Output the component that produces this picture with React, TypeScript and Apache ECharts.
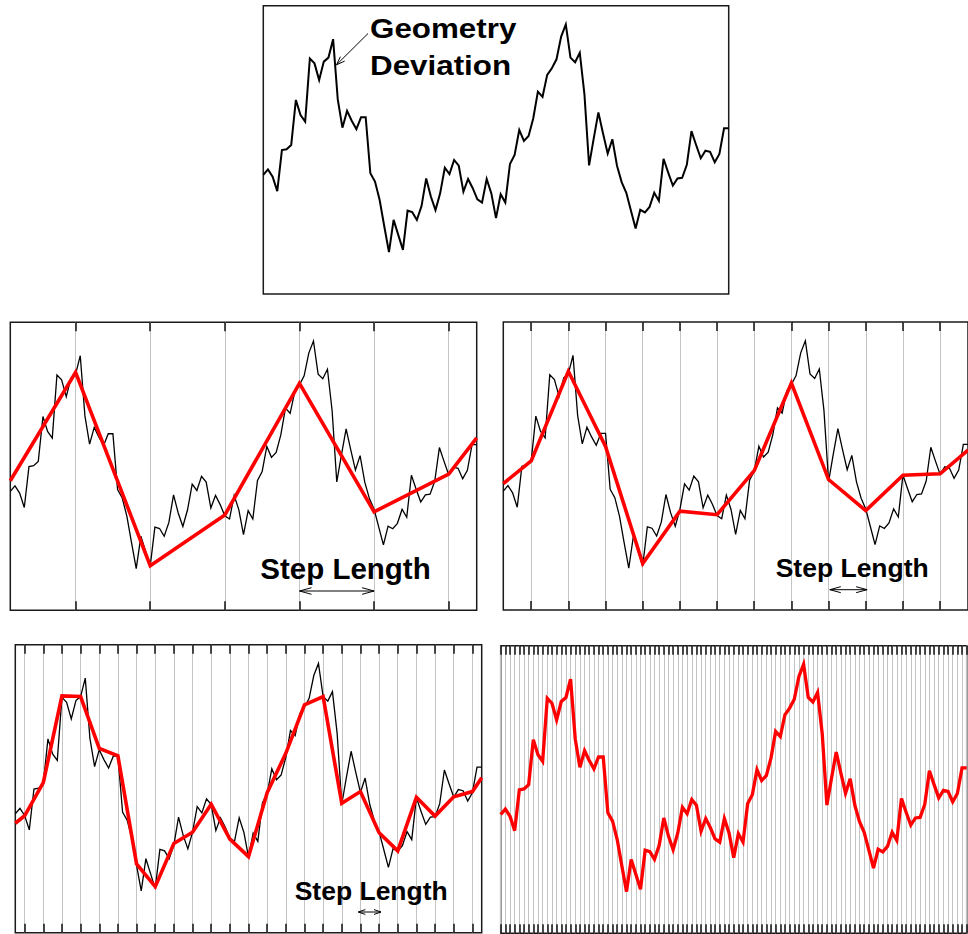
import React, { useEffect, useRef } from "react";
import * as echarts from "echarts";

// Geometry deviation signal (101 samples, position index 0..100), % of panel height
const signal = [
  41.3, 43.2, 40.7, 35.7, 49.9, 50.2, 51.7, 67.3, 62.1, 59.8,
  81.7, 80.0, 74.2, 80.6, 82.0, 88.4, 67.5, 57.7, 63.5, 60.1,
  57.2, 61.3, 61.3, 41.9, 39.0, 32.6, 23.4, 14.5, 25.7, 20.5,
  15.3, 28.9, 28.4, 25.7, 30.5, 40.1, 33.8, 29.1, 34.9, 43.8,
  41.6, 46.5, 44.5, 35.5, 39.9, 36.7, 32.8, 31.7, 39.9, 34.9,
  26.3, 34.6, 31.7, 45.1, 48.2, 56.9, 53.1, 54.8, 60.9, 70.2,
  68.4, 76.0, 78.3, 81.4, 89.3, 93.5, 82.0, 80.4, 83.7, 69.3,
  44.6, 54.0, 63.0, 55.7, 48.7, 53.7, 44.5, 38.8, 35.1, 28.9,
  22.7, 29.2, 28.3, 30.2, 35.1, 32.3, 46.9, 42.1, 37.6, 40.1,
  40.3, 44.8, 56.5, 51.7, 47.1, 49.7, 49.3, 45.7, 48.6, 57.5, 57.5,
];

const positions = signal.map((_, i) => String(i));

// Piecewise-linear approximations
const step16Idx = [0, 14, 30, 46, 62, 78, 94, 100];
const step16Val = [45.0, 82.6, 15.5, 33.1, 78.8, 34.2, 47.3, 59.9];

const step8Idx = [0, 6, 14, 22, 30, 38, 46, 54, 62, 70, 78, 86, 94, 100];
const step8Val = [43.9, 51.8, 82.9, 56.8, 16.1, 34.3, 33.1, 48.4, 78.8, 45.3, 34.5, 46.8, 47.3, 55.5];

const step4Idx = [0, 2, 6, 10, 14, 18, 22, 26, 30, 34, 38, 42, 46, 50, 54, 58, 62, 66, 70, 74, 78, 82, 86, 90, 94, 98, 100];
const step4Val = [38.0, 40.6, 52.1, 82.2, 82.0, 64.0, 61.4, 23.9, 16.0, 31.0, 34.9, 44.6, 32.5, 26.4, 48.6, 62.3, 79.1, 82.0, 44.9, 49.0, 34.7, 28.4, 47.0, 40.5, 47.2, 49.0, 53.8];

const gridPhase = 14;

const panels = [
  { left: 263.3, top: 5.7, width: 465.4, height: 288.3 },
  { left: 10.3, top: 322.3, width: 466.4, height: 288 },
  { left: 503.3, top: 322, width: 466.4, height: 288 },
  { left: 15.3, top: 644.7, width: 466.4, height: 288 },
  { left: 500.7, top: 645.7, width: 466, height: 287.6 },
];

const steps = [16, 8, 4, 1];

const FONT = "'Liberation Sans', Arial, Helvetica, sans-serif";

function pairs(idx: number[], val: number[]) {
  return idx.map((x, k) => [x, val[k]]);
}

function textEl(text: string, x: number, y: number, size: number, align: string, scaleX = 1) {
  return {
    type: "text",
    x,
    y,
    scaleX,
    silent: true,
    z: 100,
    style: {
      text,
      fontSize: size,
      fontWeight: "bold",
      fontFamily: FONT,
      fill: "#000",
      align,
      textAlign: align,
      verticalAlign: "middle",
      textVerticalAlign: "middle",
    },
  };
}

function dblArrow(x1: number, x2: number, y: number, len: number, half: number) {
  const st = { stroke: "#000", lineWidth: 1, fill: "none" };
  return [
    { type: "line", silent: true, z: 100, shape: { x1, y1: y, x2, y2: y }, style: st },
    { type: "polyline", silent: true, z: 100, shape: { points: [[x1 + len, y - half], [x1, y], [x1 + len, y + half]] }, style: st },
    { type: "polyline", silent: true, z: 100, shape: { points: [[x2 - len, y - half], [x2, y], [x2 - len, y + half]] }, style: st },
  ];
}

export default function App() {
  const ref = useRef<HTMLDivElement>(null);

  useEffect(() => {
    if (!ref.current) return;
    const chart = echarts.init(ref.current, null, { renderer: "svg" });

    const grid = panels.map((p) => ({
      left: p.left,
      top: p.top,
      width: p.width,
      height: p.height,
      show: true,
      borderColor: "#1a1a1a",
      borderWidth: 1.5,
      backgroundColor: "transparent",
      containLabel: false,
    }));

    const xAxis: any[] = [
      {
        type: "category",
        gridIndex: 0,
        data: positions,
        boundaryGap: false,
        show: false,
      },
    ];
    steps.forEach((step, k) => {
      const fn = (idx: number) => ((((idx - gridPhase) % step) + step) % step) === 0;
      xAxis.push({
        type: "category",
        gridIndex: k + 1,
        data: positions,
        boundaryGap: false,
        position: "bottom",
        axisLine: { show: false },
        axisLabel: { show: false },
        axisTick: { show: true, inside: true, length: 9, interval: fn, lineStyle: { color: "#111", width: 1.5 } },
        splitLine: { show: true, interval: fn, lineStyle: { color: "#c4c4c4", width: 1 } },
      });
      xAxis.push({
        type: "category",
        gridIndex: k + 1,
        data: positions,
        boundaryGap: false,
        position: "top",
        axisLine: { show: false },
        axisLabel: { show: false },
        axisTick: { show: true, inside: true, length: 9, interval: fn, lineStyle: { color: "#111", width: 1.5 } },
        splitLine: { show: false },
      });
    });

    const yAxis = panels.map((_, k) => ({
      type: "value",
      gridIndex: k,
      min: 0,
      max: 100,
      show: false,
    }));

    const black = (xi: number, yi: number, w: number) => ({
      type: "line",
      xAxisIndex: xi,
      yAxisIndex: yi,
      data: signal,
      showSymbol: false,
      symbol: "none",
      z: 2,
      lineStyle: { color: "#000", width: w, join: "miter" },
    });
    const red = (xi: number, yi: number, data: any[], w: number) => ({
      type: "line",
      xAxisIndex: xi,
      yAxisIndex: yi,
      data,
      showSymbol: false,
      symbol: "none",
      z: 3,
      lineStyle: { color: "#ff0000", width: w, join: "miter" },
    });

    const series = [
      black(0, 0, 2),
      black(1, 1, 1.3),
      red(1, 1, pairs(step16Idx, step16Val), 3.6),
      black(3, 2, 1.3),
      red(3, 2, pairs(step8Idx, step8Val), 3.6),
      black(5, 3, 1.3),
      red(5, 3, pairs(step4Idx, step4Val), 3.6),
      red(7, 4, signal, 3.3),
    ];

    const headSt = { stroke: "#000", lineWidth: 1, fill: "none" };
    const graphic: any[] = [
      textEl("Geometry", 370, 28, 28, "left", 1.12),
      textEl("Deviation", 370, 65, 28, "left", 1.12),
      { type: "line", silent: true, z: 100, shape: { x1: 368, y1: 33.5, x2: 336.5, y2: 64.8 }, style: headSt },
      { type: "polyline", silent: true, z: 100, shape: { points: [[340.4, 56.7], [336.5, 64.8], [344.7, 61.1]] }, style: headSt },
      textEl("Step Length", 345.5, 568, 29.5, "center"),
      ...dblArrow(299.5, 374.1, 591, 12, 3.3),
      textEl("Step Length", 852.2, 568, 26.5, "center"),
      ...dblArrow(829.8, 867.1, 589.7, 11, 3),
      textEl("Step Length", 371.2, 890.7, 26.5, "center"),
      ...dblArrow(358.3, 381, 912, 7, 2.4),
    ];

    chart.setOption({
      animation: false,
      backgroundColor: "#fff",
      grid,
      xAxis,
      yAxis,
      series,
      graphic,
    });

    return () => chart.dispose();
  }, []);

  return (
    <div
      ref={ref}
      style={{ position: "absolute", left: 0, top: 0, width: 968, height: 934 }}
    />
  );
}
